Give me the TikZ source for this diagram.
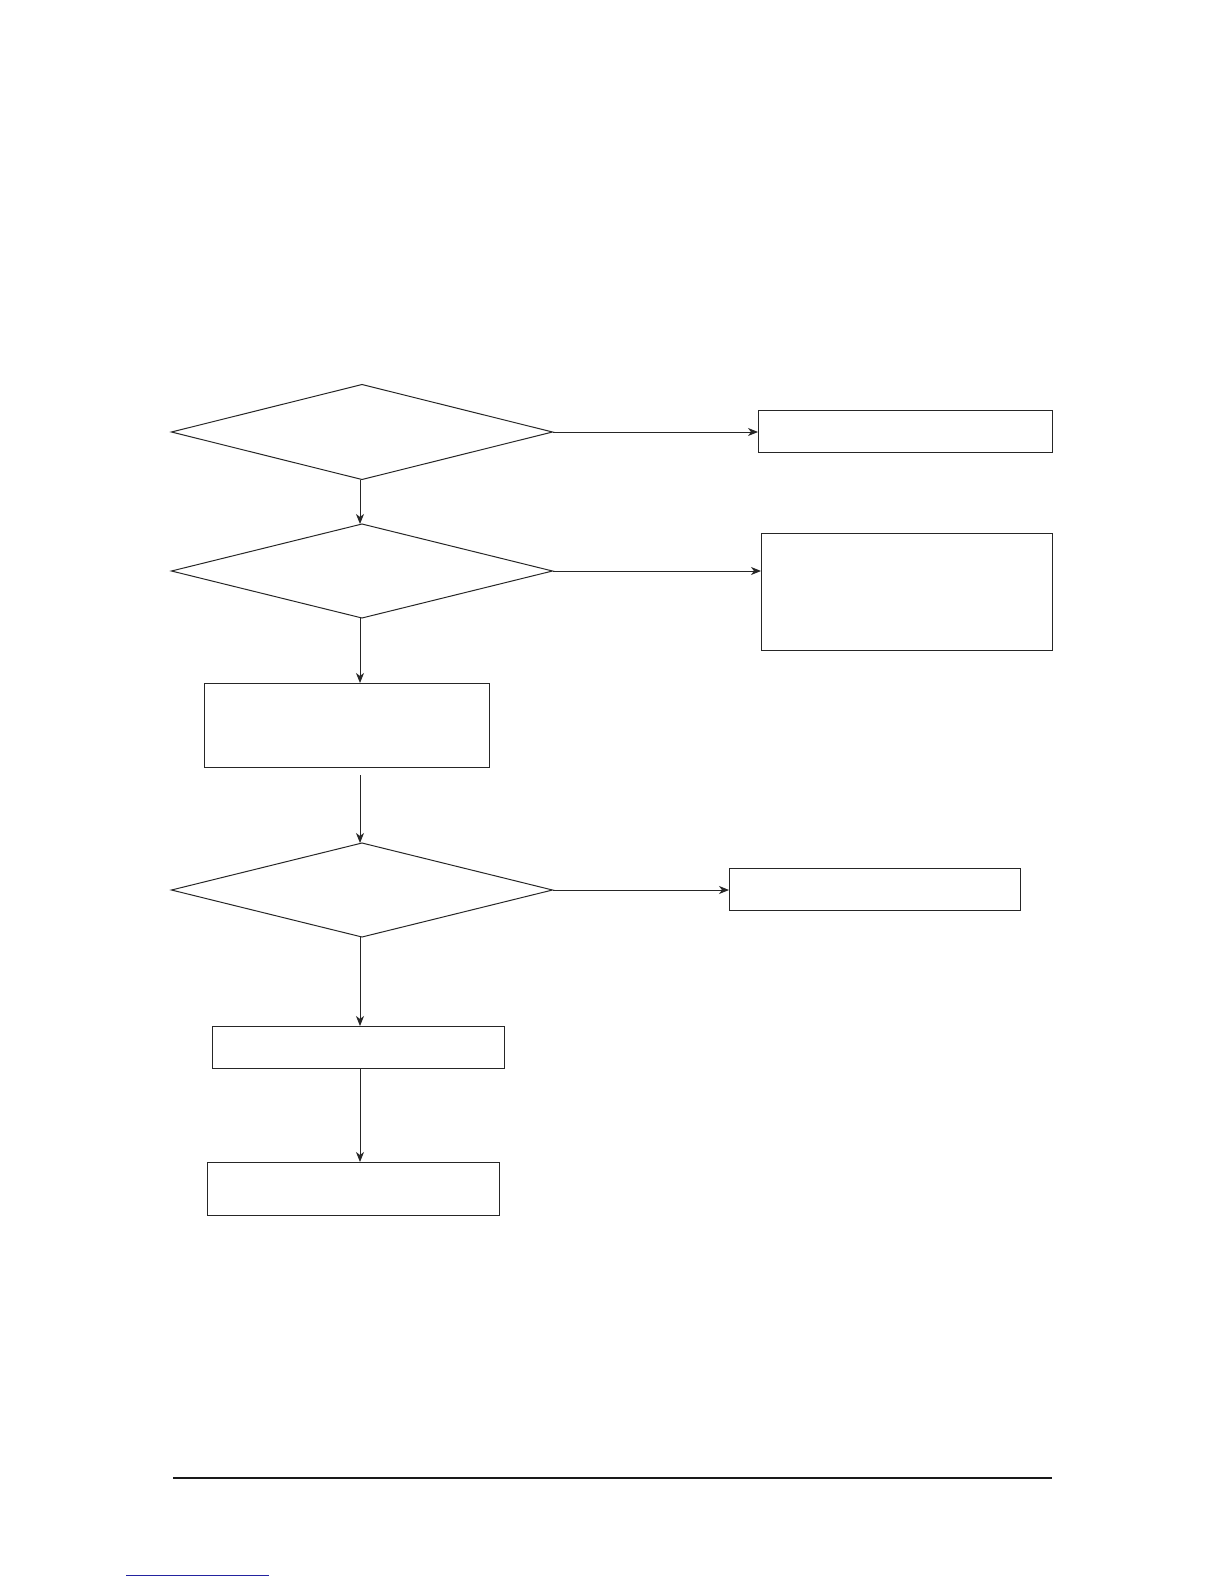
\documentclass[tikz,border=0pt]{standalone}
\usetikzlibrary{shapes.geometric,arrows.meta}
\begin{document}
\begin{tikzpicture}[x=1pt,y=-1pt,
  box/.style={draw=black!85,line width=1pt,rectangle,inner sep=0pt,outer sep=0pt},
  dec/.style={draw=black!85,line width=1pt,diamond,inner sep=0pt,outer sep=0pt,minimum width=381pt},
  arr/.style={draw=black!85,line width=1pt,-{Stealth[length=10pt,width=8pt,inset=3pt]}}]
\useasboundingbox (0,0) rectangle (1224,1584);
\node[dec,minimum height=95pt] (d1) at (362,432) {};
\node[dec,minimum height=94pt] (d2) at (362,571) {};
\node[dec,minimum height=94pt] (d3) at (362,890) {};
\node[box,minimum width=294pt,minimum height=42pt] (b1) at (905,431) {};
\node[box,minimum width=291pt,minimum height=117pt] (b2) at (906.5,591.5) {};
\node[box,minimum width=285pt,minimum height=84pt] (b3) at (346.5,725) {};
\node[box,minimum width=291pt,minimum height=42pt] (b4) at (874.5,889) {};
\node[box,minimum width=292pt,minimum height=42pt] (b5) at (358,1047) {};
\node[box,minimum width=292pt,minimum height=53pt] (b6) at (353,1188.5) {};
\coordinate (g3) at (360,775);
\draw[arr] (d1.south -| g3) -- (d2.north -| g3);
\draw[arr] (d1.east) -- (b1.west |- d1.east);
\draw[arr] (d2.east) -- (b2.west |- d2.east);
\draw[arr] (d2.south -| g3) -- (b3.north -| g3);
\draw[arr] (g3) -- (d3.north -| g3);
\draw[arr] (d3.east) -- (b4.west |- d3.east);
\draw[arr] (d3.south -| g3) -- (b5.north -| g3);
\draw[arr] (b5.south -| g3) -- (b6.north -| g3);
\coordinate (r1) at (173,1478);
\coordinate (r2) at (1052,1478);
\draw[line width=2pt,black!90] (r1) -- (r2);
\coordinate (u1) at (126,1575);
\coordinate (u2) at (269,1575);
\draw[line width=1pt,color={rgb,255:red,35;green,35;blue,160}] (u1) -- (u2);
\end{tikzpicture}
\end{document}
